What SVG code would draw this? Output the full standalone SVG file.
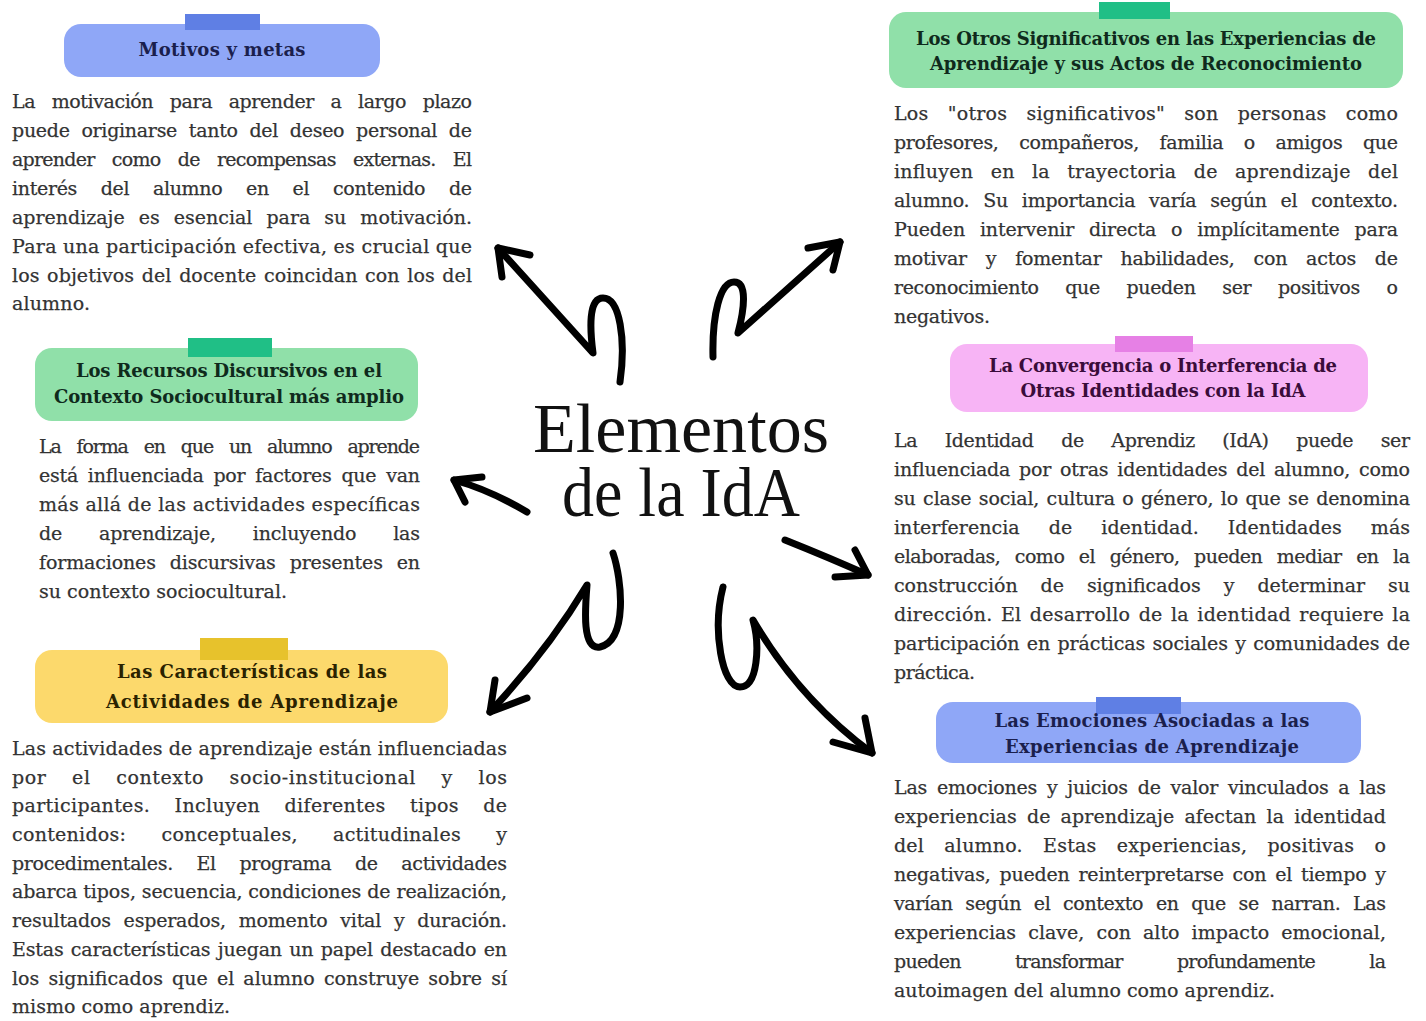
<svg xmlns="http://www.w3.org/2000/svg" width="1426" height="1021" viewBox="0 0 1426 1021">
<style>
.bg{fill:#ffffff}
.body{font-family:"DejaVu Serif","Liberation Serif",serif;font-size:19px;fill:#333333;stroke:#333333;stroke-width:0.25px}
.hd{font-family:"DejaVu Serif","Liberation Serif",serif;font-size:18px;font-weight:bold;text-anchor:middle}
.title{font-family:"Liberation Serif","DejaVu Serif",serif;font-size:70px;fill:#111111;text-anchor:middle}
.blue .box{fill:#8fa7f7}.blue .tab{fill:#5f7fe4}.blue .hd{fill:#1b1f4d}
.green .box{fill:#90e0a9}.green .tab{fill:#20bf86}.green .hd{fill:#0f2a1c}
.yellow .box{fill:#fcd96c}.yellow .tab{fill:#e7c22c}.yellow .hd{fill:#2a2200}
.pink .box{fill:#f7b4f5}.pink .tab{fill:#e680e5}.pink .hd{fill:#3a0c3a}
.arrow{fill:none;stroke:#000000;stroke-width:7;stroke-linecap:round;stroke-linejoin:round}
</style>
<rect class="bg" x="0" y="0" width="1426" height="1021"/>

<g id="center">
<text class="title"><tspan x="681" y="452" textLength="296" lengthAdjust="spacingAndGlyphs">Elementos</tspan><tspan x="681" y="516" textLength="238" lengthAdjust="spacingAndGlyphs">de la IdA</tspan></text>
</g>

<g id="connectors">
<path class="arrow" d="M620,382 C626,340 620,298 603,298 C588,298 590,330 593,353 L498,248"/>
<path class="arrow" d="M530,255 L498,248 L502,277"/>
<path class="arrow" d="M713,357 C712,315 720,282 734,282 C748,282 744,310 738,333 L840,242"/>
<path class="arrow" d="M808,248 L840,242 L833,270"/>
<path class="arrow" d="M527,512 Q490,490 454,480"/>
<path class="arrow" d="M482,477 L454,480 L465,502"/>
<path class="arrow" d="M613,553 C622,580 628,640 600,647 C582,650 585,610 587,585 Q548,650 490,712"/>
<path class="arrow" d="M495,680 L490,712 L527,698"/>
<path class="arrow" d="M785,540 Q830,558 868,575"/>
<path class="arrow" d="M855,550 L868,575 L835,577"/>
<path class="arrow" d="M723,587 C712,630 722,687 740,687 C758,687 760,645 753,620 Q800,700 872,753"/>
<path class="arrow" d="M865,718 L872,753 L833,742"/>
</g>

<g id="motivos" class="blue">
<rect class="box" x="64" y="24" width="316" height="53" rx="17"/>
<rect class="tab" x="185" y="14" width="75" height="16"/>
<text class="hd" x="222" y="56" textLength="167">Motivos y metas</text>
<text class="body" x="12" y="108" textLength="460" lengthAdjust="spacing" style="word-spacing:11px">La motivación para aprender a largo plazo</text>
<text class="body" x="12" y="137" textLength="460" lengthAdjust="spacing" style="word-spacing:6px">puede originarse tanto del deseo personal de</text>
<text class="body" x="12" y="166" textLength="460" lengthAdjust="spacing" style="word-spacing:12px">aprender como de recompensas externas. El</text>
<text class="body" x="12" y="195" textLength="460" lengthAdjust="spacing" style="word-spacing:18px">interés del alumno en el contenido de</text>
<text class="body" x="12" y="224" textLength="460" lengthAdjust="spacing" style="word-spacing:8px">aprendizaje es esencial para su motivación.</text>
<text class="body" x="12" y="253" textLength="460" lengthAdjust="spacing">Para una participación efectiva, es crucial que</text>
<text class="body" x="12" y="282" textLength="460" lengthAdjust="spacing" style="word-spacing:1.5px">los objetivos del docente coincidan con los del</text>
<text class="body" x="12" y="310" textLength="78" lengthAdjust="spacing">alumno.</text>
</g>

<g id="recursos" class="green">
<rect class="box" x="35" y="348" width="383" height="73" rx="17"/>
<rect class="tab" x="188" y="338" width="84" height="19"/>
<text class="hd" x="229" y="377" textLength="306">Los Recursos Discursivos en el</text>
<text class="hd" x="229" y="403" textLength="350">Contexto Sociocultural más amplio</text>
<text class="body" x="39" y="453" textLength="381" lengthAdjust="spacing" style="word-spacing:11px">La forma en que un alumno aprende</text>
<text class="body" x="39" y="482" textLength="381" lengthAdjust="spacing" style="word-spacing:4px">está influenciada por factores que van</text>
<text class="body" x="39" y="511" textLength="381" lengthAdjust="spacing">más allá de las actividades específicas</text>
<text class="body" x="39" y="540" textLength="381" lengthAdjust="spacing" style="word-spacing:31px">de aprendizaje, incluyendo las</text>
<text class="body" x="39" y="569" textLength="381" lengthAdjust="spacing" style="word-spacing:8px">formaciones discursivas presentes en</text>
<text class="body" x="39" y="598" textLength="248" lengthAdjust="spacing">su contexto sociocultural.</text>
</g>

<g id="caracteristicas" class="yellow">
<rect class="box" x="35" y="650" width="413" height="73" rx="17"/>
<rect class="tab" x="200" y="638" width="88" height="22"/>
<text class="hd" x="252" y="678" textLength="270">Las Características de las</text>
<text class="hd" x="252" y="708" textLength="292">Actividades de Aprendizaje</text>
<text class="body" x="12" y="755" textLength="495" lengthAdjust="spacing">Las actividades de aprendizaje están influenciadas</text>
<text class="body" x="12" y="784" textLength="495" lengthAdjust="spacing" style="word-spacing:19px">por el contexto socio-institucional y los</text>
<text class="body" x="12" y="812" textLength="495" lengthAdjust="spacing" style="word-spacing:18px">participantes. Incluyen diferentes tipos de</text>
<text class="body" x="12" y="841" textLength="495" lengthAdjust="spacing" style="word-spacing:29px">contenidos: conceptuales, actitudinales y</text>
<text class="body" x="12" y="870" textLength="495" lengthAdjust="spacing" style="word-spacing:18px">procedimentales. El programa de actividades</text>
<text class="body" x="12" y="898" textLength="495" lengthAdjust="spacing">abarca tipos, secuencia, condiciones de realización,</text>
<text class="body" x="12" y="927" textLength="495" lengthAdjust="spacing" style="word-spacing:7px">resultados esperados, momento vital y duración.</text>
<text class="body" x="12" y="956" textLength="495" lengthAdjust="spacing" style="word-spacing:1.5px">Estas características juegan un papel destacado en</text>
<text class="body" x="12" y="985" textLength="495" lengthAdjust="spacing" style="word-spacing:3px">los significados que el alumno construye sobre sí</text>
<text class="body" x="12" y="1013" textLength="218" lengthAdjust="spacing">mismo como aprendiz.</text>
</g>

<g id="otros" class="green">
<rect class="box" x="889" y="12" width="514" height="76" rx="17"/>
<rect class="tab" x="1099" y="2" width="71" height="17"/>
<text class="hd" x="1146" y="45" textLength="460">Los Otros Significativos en las Experiencias de</text>
<text class="hd" x="1146" y="70" textLength="432">Aprendizaje y sus Actos de Reconocimiento</text>
<text class="body" x="894" y="120" textLength="504" lengthAdjust="spacing" style="word-spacing:13px">Los "otros significativos" son personas como</text>
<text class="body" x="894" y="149" textLength="504" lengthAdjust="spacing" style="word-spacing:15px">profesores, compañeros, familia o amigos que</text>
<text class="body" x="894" y="178" textLength="504" lengthAdjust="spacing" style="word-spacing:11px">influyen en la trayectoria de aprendizaje del</text>
<text class="body" x="894" y="207" textLength="504" lengthAdjust="spacing" style="word-spacing:8px">alumno. Su importancia varía según el contexto.</text>
<text class="body" x="894" y="236" textLength="504" lengthAdjust="spacing" style="word-spacing:9px">Pueden intervenir directa o implícitamente para</text>
<text class="body" x="894" y="265" textLength="504" lengthAdjust="spacing" style="word-spacing:13px">motivar y fomentar habilidades, con actos de</text>
<text class="body" x="894" y="294" textLength="504" lengthAdjust="spacing" style="word-spacing:21px">reconocimiento que pueden ser positivos o</text>
<text class="body" x="894" y="323" textLength="96" lengthAdjust="spacing">negativos.</text>
</g>

<g id="convergencia" class="pink">
<rect class="box" x="950" y="344" width="418" height="68" rx="17"/>
<rect class="tab" x="1115" y="336" width="78" height="16"/>
<text class="hd" x="1163" y="372" textLength="348">La Convergencia o Interferencia de</text>
<text class="hd" x="1163" y="397" textLength="285">Otras Identidades con la IdA</text>
<text class="body" x="894" y="447" textLength="516" lengthAdjust="spacing" style="word-spacing:22px">La Identidad de Aprendiz (IdA) puede ser</text>
<text class="body" x="894" y="476" textLength="516" lengthAdjust="spacing" style="word-spacing:3px">influenciada por otras identidades del alumno, como</text>
<text class="body" x="894" y="505" textLength="516" lengthAdjust="spacing" style="word-spacing:1.5px">su clase social, cultura o género, lo que se denomina</text>
<text class="body" x="894" y="534" textLength="516" lengthAdjust="spacing" style="word-spacing:23px">interferencia de identidad. Identidades más</text>
<text class="body" x="894" y="563" textLength="516" lengthAdjust="spacing" style="word-spacing:9px">elaboradas, como el género, pueden mediar en la</text>
<text class="body" x="894" y="592" textLength="516" lengthAdjust="spacing" style="word-spacing:17px">construcción de significados y determinar su</text>
<text class="body" x="894" y="621" textLength="516" lengthAdjust="spacing" style="word-spacing:2px">dirección. El desarrollo de la identidad requiere la</text>
<text class="body" x="894" y="650" textLength="516" lengthAdjust="spacing" style="word-spacing:1.5px">participación en prácticas sociales y comunidades de</text>
<text class="body" x="894" y="679" textLength="81" lengthAdjust="spacing">práctica.</text>
</g>

<g id="emociones" class="blue">
<rect class="box" x="936" y="702" width="425" height="61" rx="17"/>
<rect class="tab" x="1096" y="697" width="85" height="17"/>
<text class="hd" x="1152" y="727" textLength="315">Las Emociones Asociadas a las</text>
<text class="hd" x="1152" y="753" textLength="294">Experiencias de Aprendizaje</text>
<text class="body" x="894" y="794" textLength="492" lengthAdjust="spacing" style="word-spacing:4px">Las emociones y juicios de valor vinculados a las</text>
<text class="body" x="894" y="823" textLength="492" lengthAdjust="spacing" style="word-spacing:4px">experiencias de aprendizaje afectan la identidad</text>
<text class="body" x="894" y="852" textLength="492" lengthAdjust="spacing" style="word-spacing:14px">del alumno. Estas experiencias, positivas o</text>
<text class="body" x="894" y="881" textLength="492" lengthAdjust="spacing" style="word-spacing:3px">negativas, pueden reinterpretarse con el tiempo y</text>
<text class="body" x="894" y="910" textLength="492" lengthAdjust="spacing" style="word-spacing:7px">varían según el contexto en que se narran. Las</text>
<text class="body" x="894" y="939" textLength="492" lengthAdjust="spacing" style="word-spacing:6px">experiencias clave, con alto impacto emocional,</text>
<text class="body" x="894" y="968" textLength="492" lengthAdjust="spacing" style="word-spacing:49px">pueden transformar profundamente la</text>
<text class="body" x="894" y="997" textLength="381" lengthAdjust="spacing">autoimagen del alumno como aprendiz.</text>
</g>
</svg>
